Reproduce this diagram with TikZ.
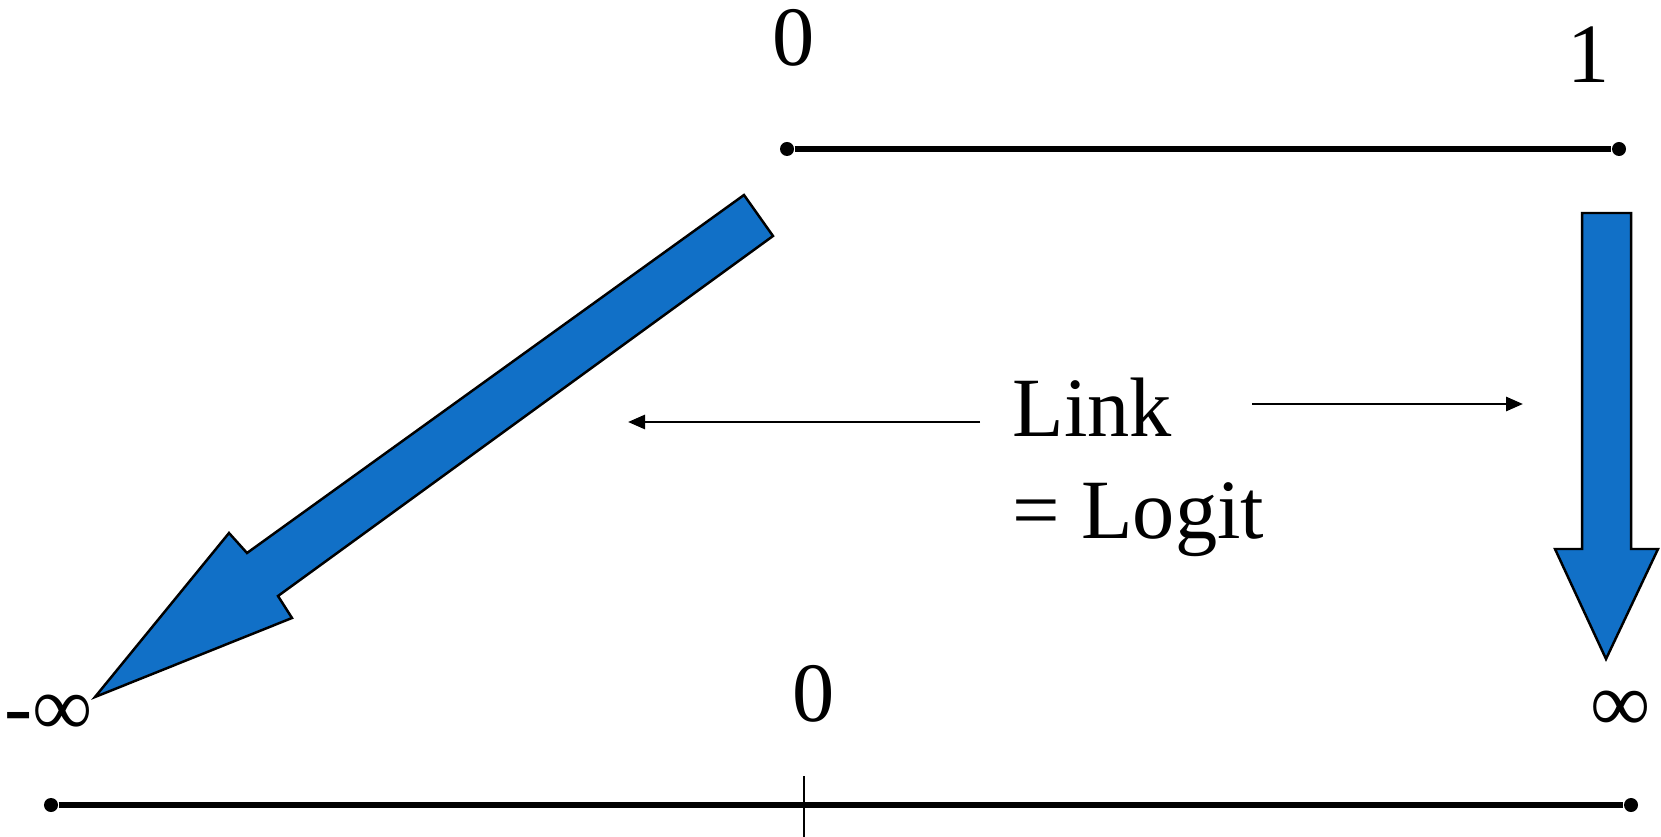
\documentclass[tikz,border=0pt]{standalone}
\usepackage{fontspec}
\setmainfont{Liberation Serif}
\usetikzlibrary{arrows.meta, calc}
\definecolor{arrowblue}{RGB}{17,112,199}

\begin{document}
\begin{tikzpicture}[
    x=0.01cm, y=-0.01cm,
    axis/.style={line width=1.8pt, black},
    endpoint/.style={circle, fill=black, inner sep=0pt, minimum size=0.14cm},
    blockarrow/.style={fill=arrowblue, draw=black, line width=0.7pt, line join=miter},
    numlabel/.style={inner sep=0pt, font=\fontsize{24}{29}\selectfont},
    thinarrow/.style={-{Triangle[length=0.17cm, width=0.14cm]}, line width=0.8pt}
]
    \useasboundingbox (0,0) rectangle (1661,837);

    % Intervalo de probabilidad (0,1)
    \node[endpoint] (pzero) at (787,149) {};
    \node[endpoint] (pone) at (1619,149) {};
    \draw[axis] (pzero) -- (pone);
    \node[numlabel] (pzerolab) at (794,38) {0};
    \node[numlabel] (ponelab) at (1589,55) {1};

    % Recta real (logit)
    \node[endpoint] (minf) at (51,805) {};
    \node[endpoint] (pinf) at (1631,805) {};
    \draw[axis] (minf) -- (pinf);
    \coordinate (ticktop) at (804,776);
    \coordinate (tickbot) at (804,837);
    \draw[line width=0.6pt] (ticktop) -- (tickbot);
    \node[numlabel] (zerolab) at (814,694) {0};
    \node[numlabel] (minflab) at (49,715) {-∞};
    \node[numlabel] (pinflab) at (1621,711) {∞};

    % Flechas gruesas
    \draw[blockarrow] (744,195) -- (247,553) -- (229,533) -- (95,697)
        -- (292,618) -- (278,596) -- (773,236) -- cycle;
    \draw[blockarrow] (1582,213) -- (1631,213) -- (1631,549) -- (1658,549)
        -- (1606,659) -- (1555,549) -- (1582,549) -- cycle;

    % Texto central
    \node[numlabel, anchor=base west] (linkword) at (1012,436) {Link};
    \node[numlabel, anchor=base west] (logitword) at (1012,538) {= Logit};

    % Flechas finas
    \coordinate (ltail) at (980,422);
    \coordinate (lhead) at (628,422);
    \coordinate (rtail) at (1252,404);
    \coordinate (rhead) at (1523,404);
    \draw[thinarrow] (ltail) -- (lhead);
    \draw[thinarrow] (rtail) -- (rhead);

\end{tikzpicture}
\end{document}
